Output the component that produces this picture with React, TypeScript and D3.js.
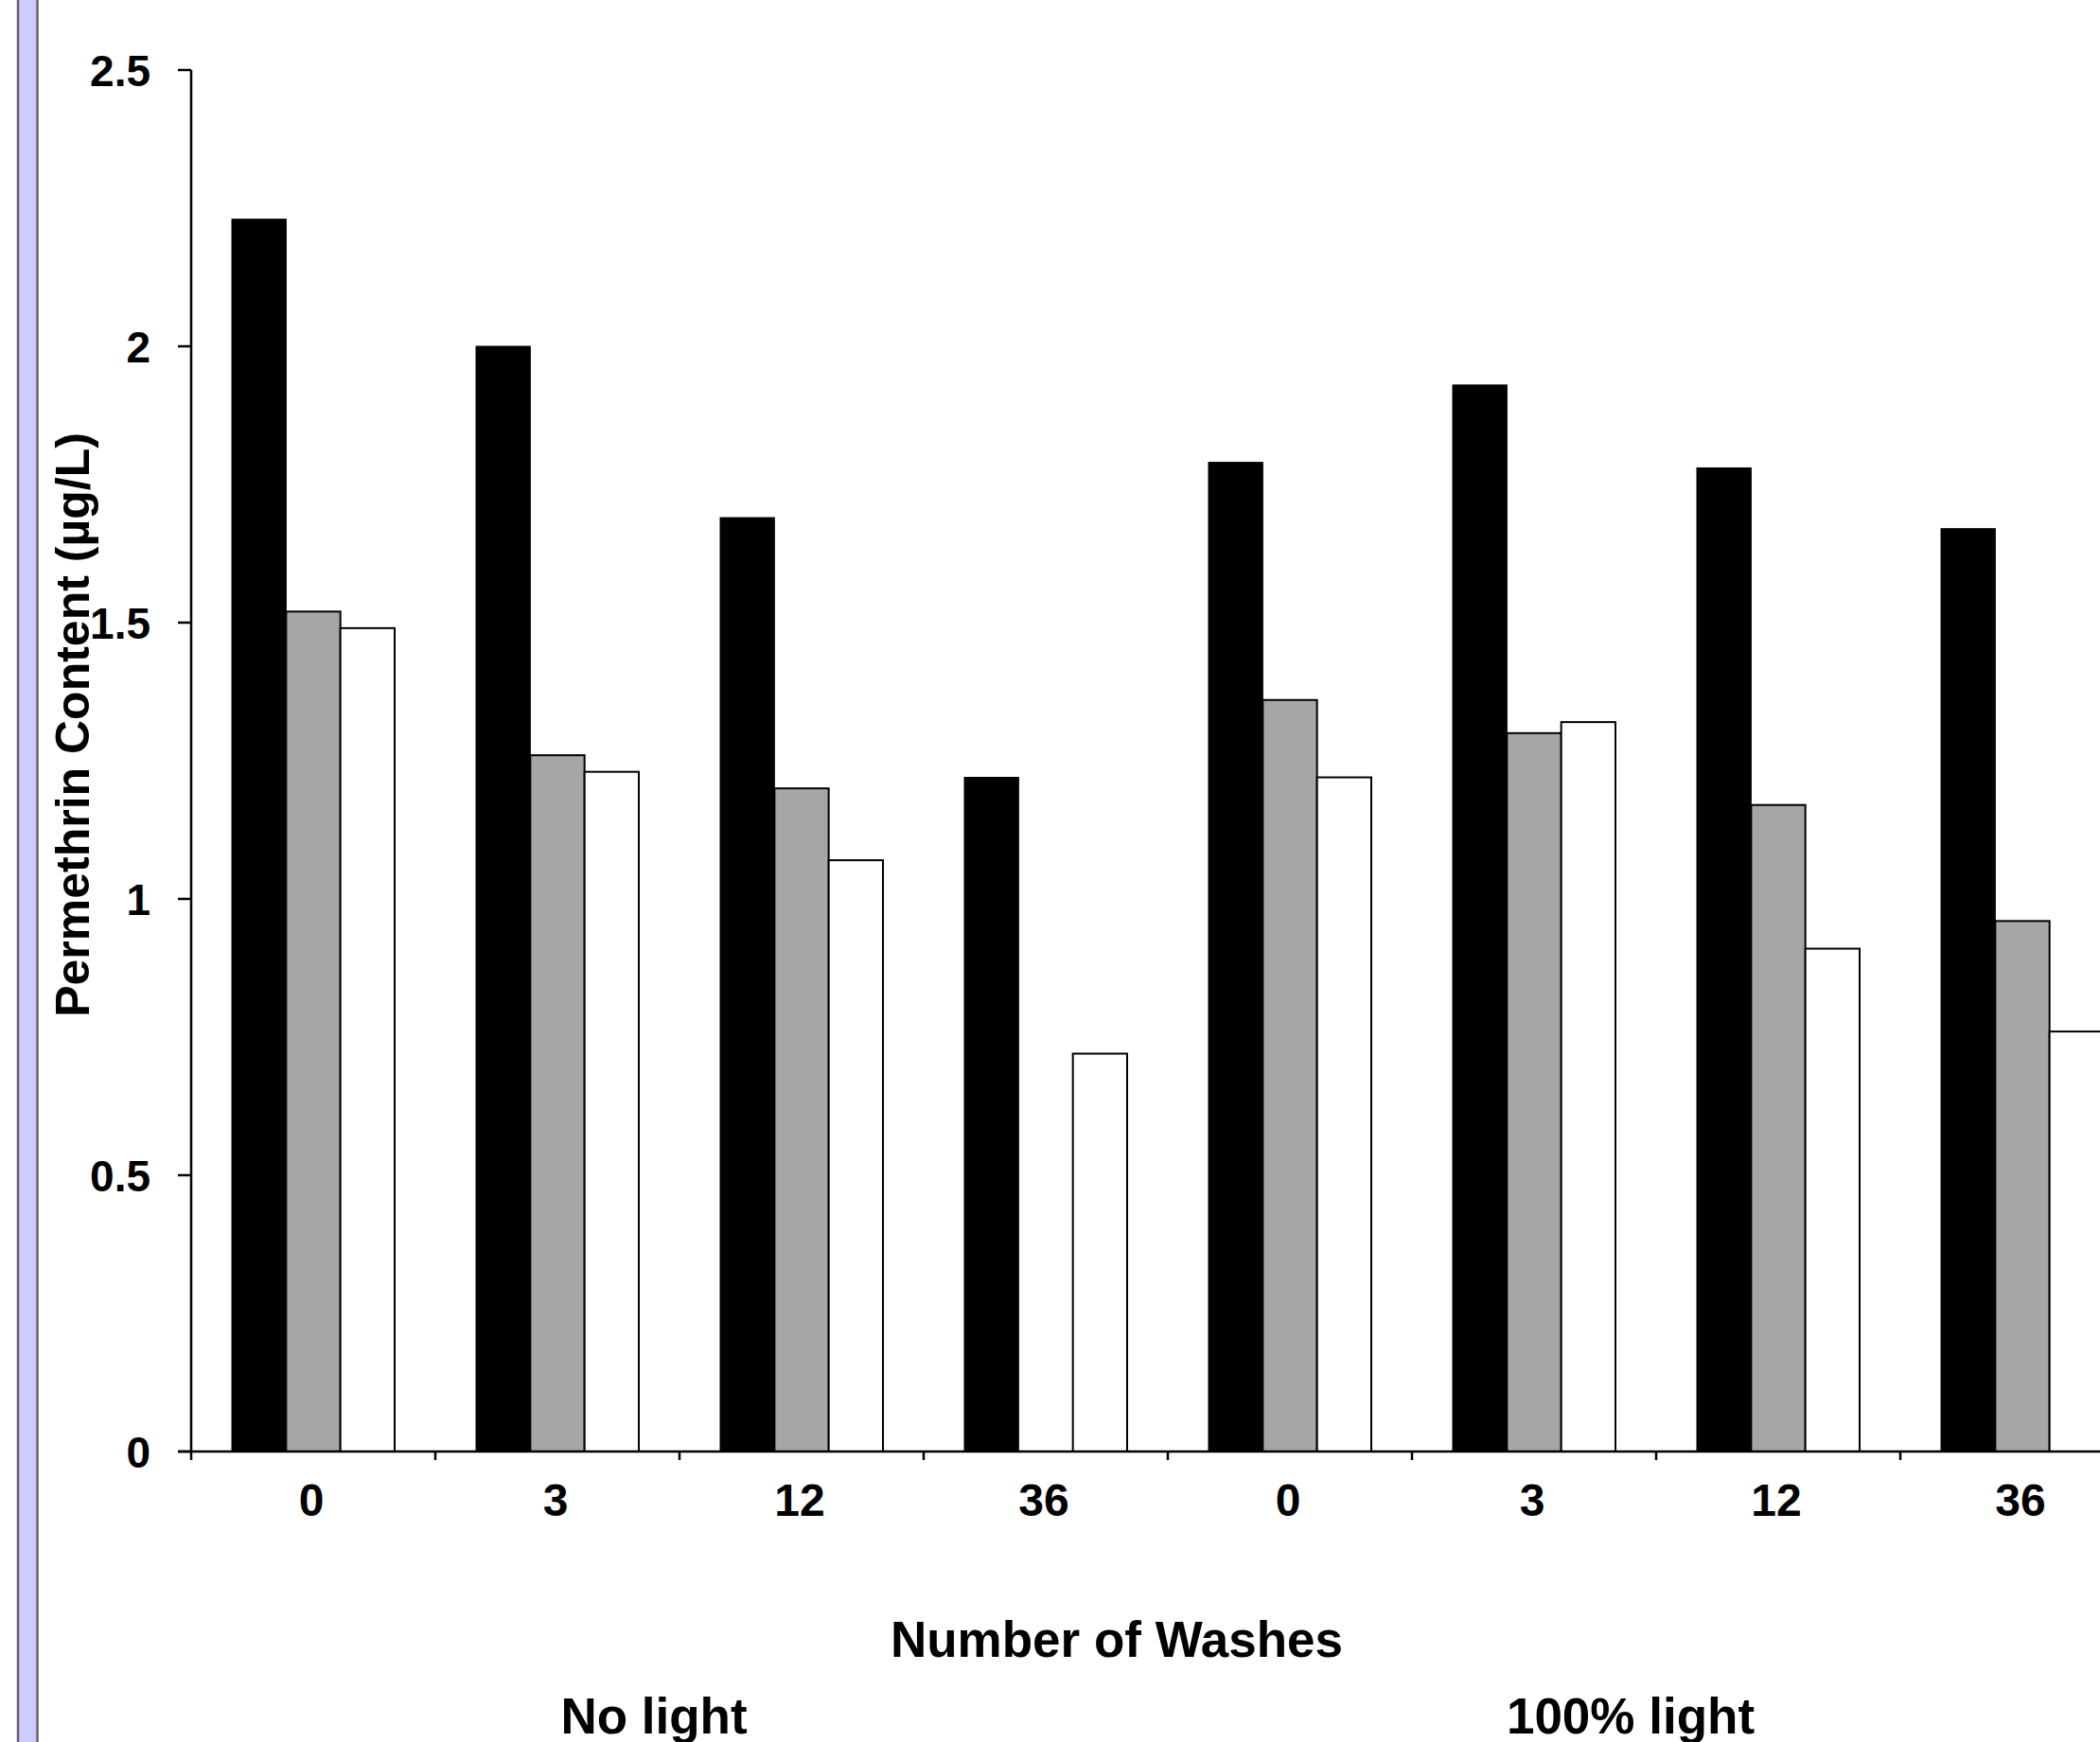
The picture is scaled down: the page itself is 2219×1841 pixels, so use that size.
import React from 'react';
import * as d3 from 'd3';

// washes per group, two light conditions
const categories = ['0', '3', '12', '36', '0', '3', '12', '36'];
const groups = ['No light', '100% light'];
const seriesNames = ['a', 'b', 'c'];
const seriesA = [2.23, 2.0, 1.69, 1.22, 1.79, 1.93, 1.78, 1.67];
const seriesB = [1.52, 1.26, 1.2, null, 1.36, 1.3, 1.17, 0.96];
const seriesC = [1.49, 1.23, 1.07, 0.72, 1.22, 1.32, 0.91, 0.76];
const yTicks = [0, 0.5, 1, 1.5, 2, 2.5];

const colors = ['#000000', '#a6a6a6', '#ffffff'];
const font = 'Arial, "Liberation Sans", sans-serif';

const W = 2219;
const H = 1841;
const left = 202;
const step = 258;
const top = 74;
const bottom = 1534;

export default function App() {
  const values = [seriesA, seriesB, seriesC];

  const x = d3
    .scaleBand<number>()
    .domain(categories.map((d, i) => i))
    .range([left, left + step * categories.length])
    .paddingInner(0)
    .paddingOuter(0);

  const xInner = d3
    .scaleBand<number>()
    .domain(seriesNames.map((d, i) => i))
    .range([0, x.bandwidth()])
    .paddingInner(0)
    .paddingOuter(0.75);

  const y = d3.scaleLinear().domain([0, 2.5]).range([bottom, top]);

  // group label centres (slightly left of their four categories)
  const groupX = groups.map((g, gi) => x(gi * 4 + 2)! - 27);

  return (
    <svg
      width={W}
      height={H}
      style={{ position: 'absolute', left: 0, top: 0, background: '#fff' }}
      fontFamily={font}
      fontWeight="bold"
    >
      <rect x={0} y={0} width={W} height={H} fill="#fff" />

      {/* slide border on the left */}
      <rect x={19} y={-5} width={20.5} height={H + 10} fill="#ccccff" stroke="#666" strokeWidth={2.5} />

      {/* bars */}
      {values.map((vals, si) =>
        vals.map((v, ci) =>
          v == null ? null : (
            <rect
              key={`${si}-${ci}`}
              x={x(ci)! + xInner(si)!}
              y={y(v)}
              width={xInner.bandwidth()}
              height={y(0) - y(v)}
              fill={colors[si]}
              stroke="#000"
              strokeWidth={si === 0 ? 1 : 2}
            />
          )
        )
      )}

      {/* y axis */}
      <line x1={left} x2={left} y1={top} y2={bottom} stroke="#000" strokeWidth={2.5} />
      {yTicks.map(t => (
        <g key={t}>
          <line x1={left - 14} x2={left} y1={y(t)} y2={y(t)} stroke="#000" strokeWidth={2.5} />
          <text x={159} y={y(t)} dy="0.36em" textAnchor="end" fontSize={46}>
            {String(t)}
          </text>
        </g>
      ))}

      {/* x axis */}
      <line x1={left - 14} x2={W + 10} y1={bottom} y2={bottom} stroke="#000" strokeWidth={2.5} />
      {d3.range(categories.length + 1).map(i => (
        <line
          key={i}
          x1={left + i * step}
          x2={left + i * step}
          y1={bottom}
          y2={bottom + 9}
          stroke="#000"
          strokeWidth={2.5}
        />
      ))}
      {categories.map((c, i) => (
        <text key={i} x={x(i)! + x.bandwidth() / 2 - 2} y={1602} textAnchor="middle" fontSize={48}>
          {c}
        </text>
      ))}

      <text x={1180} y={1751} textAnchor="middle" fontSize={53}>
        Number of Washes
      </text>
      {groups.map((g, gi) => (
        <text key={g} x={groupX[gi]} y={1832} textAnchor="middle" fontSize={53}>
          {g}
        </text>
      ))}

      <text transform={`translate(94,766) rotate(-90)`} textAnchor="middle" fontSize={50}>
        Permethrin Content (µg/L)
      </text>
    </svg>
  );
}
